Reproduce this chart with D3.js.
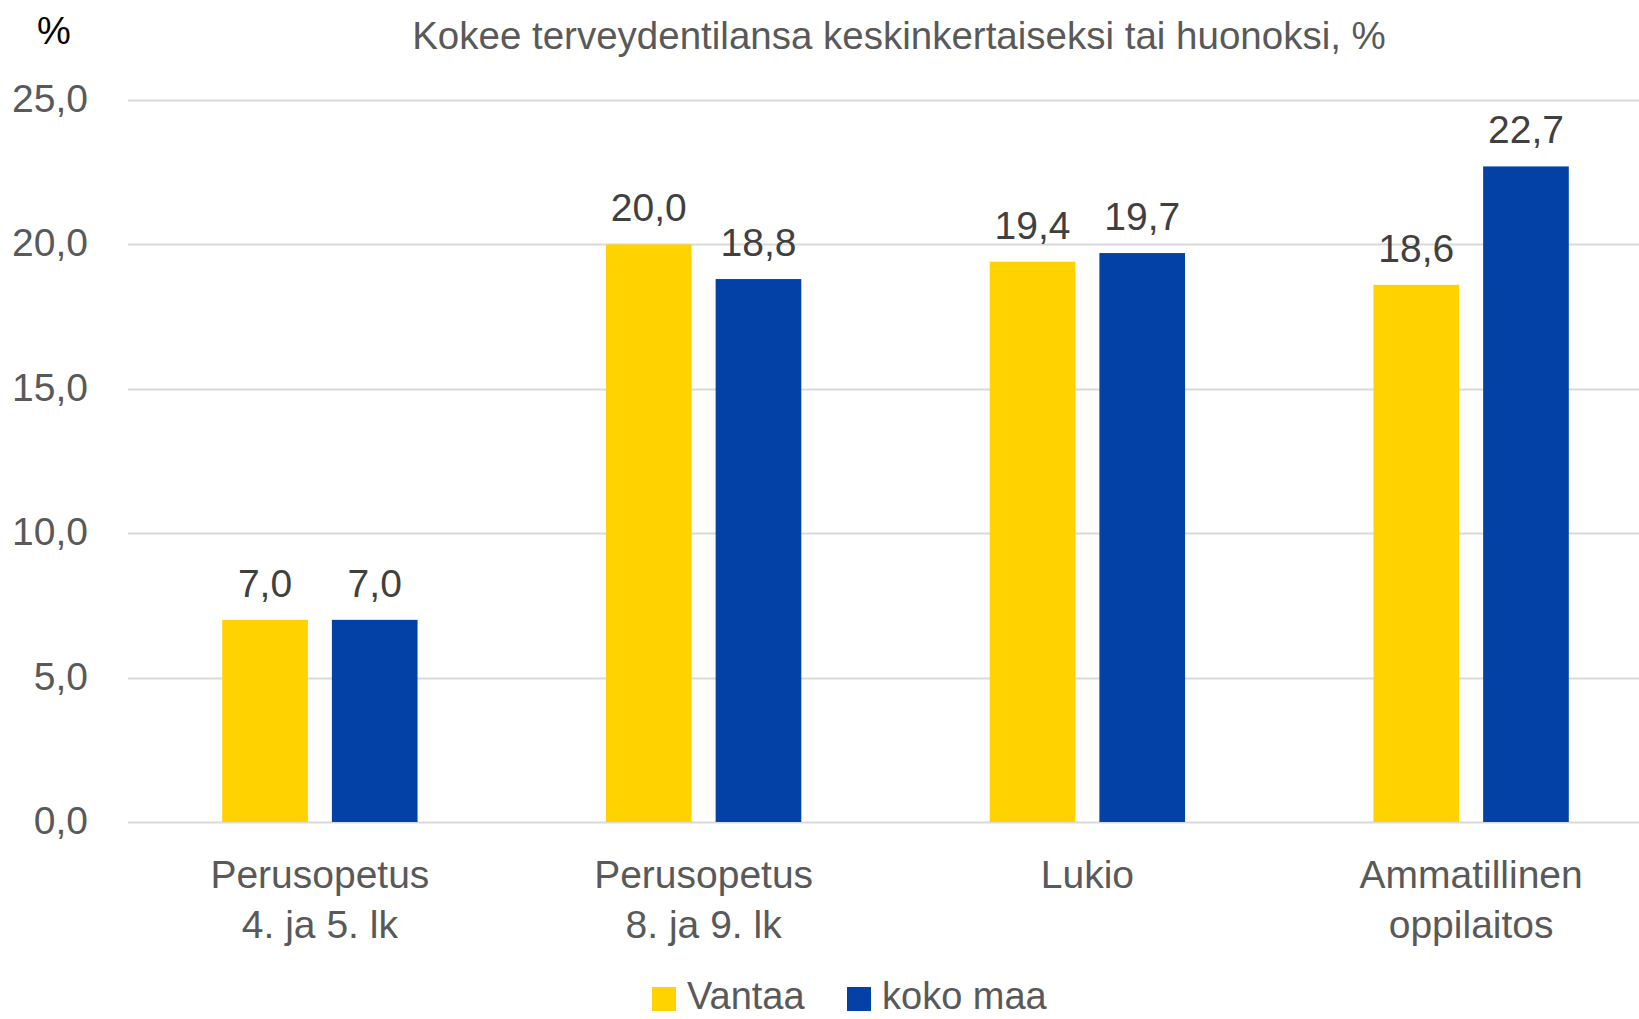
<!DOCTYPE html>
<html>
<head>
<meta charset="utf-8">
<script src="https://cdnjs.cloudflare.com/ajax/libs/d3/7.8.5/d3.min.js"></script>
<style>
body { margin: 0; background: #fff; }
svg { display: block; }
text { font-family: "Liberation Sans", Arial, sans-serif; }
</style>
</head>
<body>
<div id="chart"></div>
<script>
// data
var categories = [["Perusopetus", "4. ja 5. lk"], ["Perusopetus", "8. ja 9. lk"], ["Lukio"], ["Ammatillinen", "oppilaitos"]];
var seriesNames = ["Vantaa", "koko maa"];
var vantaa = [7.0, 20.0, 19.4, 18.6];
var kokoMaa = [7.0, 18.8, 19.7, 22.7];
var yTicks = [0, 5, 10, 15, 20, 25];
var seriesColors = ["#FFD200", "#0341A6"];

var title = "Kokee terveydentilansa keskinkertaiseksi tai huonoksi, %";

var W = 1639, H = 1019;
var plot = { left: 128, right: 1663, top: 100, bottom: 822 };

var svg = d3.select("#chart").append("svg")
	.attr("width", W)
	.attr("height", H);

var y = d3.scaleLinear()
	.domain([0, 25])
	.range([plot.bottom, plot.top]);

var keys = categories.map(function(c, i) { return "c" + i; });
var x0 = d3.scaleBand()
	.domain(keys)
	.range([plot.left, plot.right])
	.paddingInner(0.491)
	.paddingOuter(0.2455);

var x1 = d3.scaleBand()
	.domain(seriesNames)
	.range([0, x0.bandwidth()])
	.paddingInner(0.219);

var fmt = function(v) { return d3.format(".1f")(v).replace(".", ","); };

// gridlines
svg.append("g")
	.selectAll("line")
	.data(yTicks)
	.enter()
	.append("line")
		.attr("x1", plot.left)
		.attr("x2", W)
		.attr("y1", function(d) { return Math.round(y(d)) + 0.5; })
		.attr("y2", function(d) { return Math.round(y(d)) + 0.5; })
		.attr("stroke", "#d9d9d9")
		.attr("stroke-width", 2);

// y tick labels
svg.append("g")
	.selectAll("text")
	.data(yTicks)
	.enter()
	.append("text")
		.attr("x", 88)
		.attr("y", function(d) { return y(d) + 12; })
		.attr("text-anchor", "end")
		.style("font-size", "39px")
		.style("fill", "#595959")
		.text(fmt);

var rows = categories.map(function(c, i) {
	return { key: keys[i], values: [vantaa[i], kokoMaa[i]] };
});

var groups = svg.selectAll(".group")
	.data(rows)
	.enter()
	.append("g")
		.attr("class", "group")
		.attr("transform", function(d) { return "translate(" + x0(d.key) + ",0)"; });

var bars = groups.selectAll(".bar")
	.data(function(d) { return d.values.map(function(v, j) { return { name: seriesNames[j], value: v, j: j }; }); })
	.enter()
	.append("g")
		.attr("class", "bar");

bars.append("rect")
	.attr("x", function(d) { return x1(d.name); })
	.attr("y", function(d) { return y(d.value); })
	.attr("width", x1.bandwidth())
	.attr("height", function(d) { return y(0) - y(d.value); })
	.attr("fill", function(d) { return seriesColors[d.j]; });

bars.append("text")
	.attr("x", function(d) { return x1(d.name) + x1.bandwidth() / 2; })
	.attr("y", function(d) { return y(d.value) - 23; })
	.attr("text-anchor", "middle")
	.style("font-size", "39px")
	.style("fill", "#404040")
	.text(function(d) { return fmt(d.value); });

// category labels
var catLabels = svg.append("g")
	.selectAll("text")
	.data(categories)
	.enter()
	.append("text")
		.attr("text-anchor", "middle")
		.style("font-size", "39px")
		.style("fill", "#595959");
catLabels.selectAll("tspan")
	.data(function(d, i) { return d.map(function(line) { return { line: line, i: i }; }); })
	.enter()
	.append("tspan")
		.attr("x", function(d) { return x0(keys[d.i]) + x0.bandwidth() / 2; })
		.attr("y", function(d, k) { return 888 + k * 50; })
		.text(function(d) { return d.line; });

// title and unit
svg.append("text")
	.attr("x", 899)
	.attr("y", 49)
	.attr("text-anchor", "middle")
	.style("font-size", "38.5px")
	.style("fill", "#595959")
	.text(title);

svg.append("text")
	.attr("x", 37)
	.attr("y", 44)
	.style("font-size", "38px")
	.style("fill", "#000")
	.text("%");

// legend (nudged up a little so descenders stay inside the frame)
var legendX = [652, 847];
var legend = svg.selectAll(".legend")
	.data(seriesNames)
	.enter()
	.append("g")
		.attr("class", "legend")
		.attr("transform", function(d, i) { return "translate(" + legendX[i] + ",987)"; });
legend.append("rect")
	.attr("width", 24)
	.attr("height", 24)
	.attr("fill", function(d, i) { return seriesColors[i]; });
legend.append("text")
	.attr("x", 35)
	.attr("y", 22)
	.style("font-size", "38px")
	.style("fill", "#595959")
	.text(function(d) { return d; });
</script>
</body>
</html>
